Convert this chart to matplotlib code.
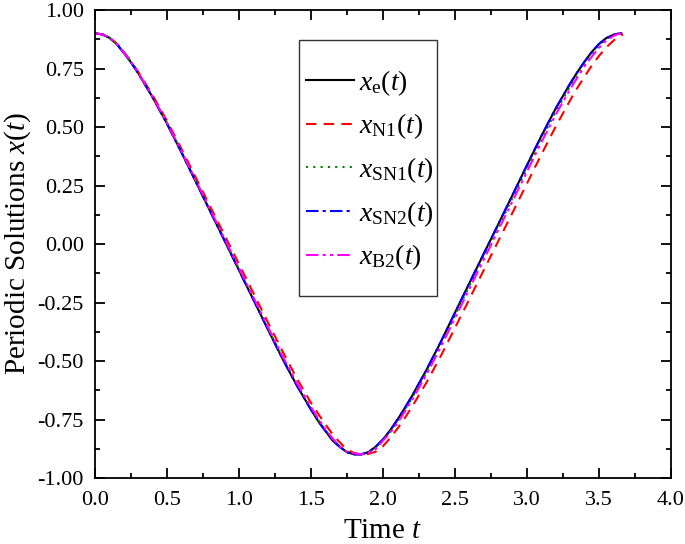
import matplotlib
matplotlib.use("Agg")
import matplotlib.pyplot as plt
from matplotlib.patches import Rectangle
from matplotlib.ticker import MultipleLocator, FormatStrFormatter

plt.rcParams['font.family'] = 'Liberation Serif'
plt.rcParams['mathtext.fontset'] = 'custom'
plt.rcParams['mathtext.rm'] = 'Liberation Serif'
plt.rcParams['mathtext.it'] = 'Liberation Serif:italic'
plt.rcParams['axes.unicode_minus'] = False

# time points (denser near the turning points)
t_grid = [0.0, 0.05, 0.1, 0.15, 0.2, 0.25, 0.3,
          0.4, 0.5, 0.6, 0.7, 0.8, 0.9, 1.0, 1.1, 1.2, 1.3, 1.4, 1.5,
          1.55, 1.6, 1.65, 1.7, 1.75, 1.8, 1.85, 1.9, 1.95, 2.0, 2.05, 2.1, 2.15, 2.2,
          2.3, 2.4, 2.5, 2.6, 2.7, 2.8, 2.9, 3.0, 3.1, 3.2, 3.3,
          3.35, 3.4, 3.45, 3.5, 3.55, 3.6, 3.625]

t_end_e = 3.655
t_end_n1 = 3.667
t_end_sn1 = 3.66
t_end_sn2 = 3.655
t_end_b2 = 3.667

x_e = [0.900, 0.896, 0.881, 0.855, 0.817, 0.776, 0.730,
       0.627, 0.514, 0.392, 0.266, 0.140, 0.014, -0.112, -0.238, -0.364, -0.488, -0.603, -0.708,
       -0.757, -0.799, -0.840, -0.867, -0.890, -0.899, -0.899, -0.889, -0.866, -0.835, -0.796, -0.751, -0.702, -0.651,
       -0.540, -0.420, -0.293, -0.167, -0.041, 0.084, 0.210, 0.337, 0.462, 0.580, 0.686,
       0.735, 0.780, 0.821, 0.855, 0.880, 0.894, 0.898,
       0.900]

x_n1 = [0.900, 0.896, 0.882, 0.857, 0.821, 0.780, 0.736,
        0.636, 0.526, 0.407, 0.284, 0.160, 0.037, -0.086, -0.210, -0.334, -0.456, -0.573, -0.679,
        -0.726, -0.771, -0.813, -0.848, -0.879, -0.893, -0.900, -0.897, -0.887, -0.864, -0.829, -0.789, -0.745, -0.697,
        -0.594, -0.480, -0.358, -0.235, -0.111, 0.012, 0.135, 0.259, 0.383, 0.503, 0.615,
        0.668, 0.716, 0.763, 0.804, 0.840, 0.869, 0.884,
        0.896]

x_sn1 = [0.900, 0.896, 0.882, 0.856, 0.818, 0.777, 0.731,
         0.628, 0.516, 0.394, 0.269, 0.143, 0.018, -0.107, -0.233, -0.359, -0.482, -0.598, -0.702,
         -0.752, -0.795, -0.836, -0.866, -0.889, -0.897, -0.899, -0.890, -0.871, -0.838, -0.802, -0.758, -0.710, -0.659,
         -0.550, -0.430, -0.304, -0.179, -0.053, 0.071, 0.197, 0.323, 0.448, 0.567, 0.674,
         0.724, 0.770, 0.811, 0.847, 0.877, 0.892, 0.897,
         0.900]

x_sn2 = [0.900, 0.896, 0.881, 0.855, 0.817, 0.776, 0.730,
         0.627, 0.514, 0.392, 0.266, 0.140, 0.014, -0.112, -0.238, -0.364, -0.488, -0.603, -0.708,
         -0.757, -0.799, -0.840, -0.867, -0.890, -0.899, -0.899, -0.889, -0.866, -0.835, -0.796, -0.751, -0.702, -0.651,
         -0.540, -0.420, -0.293, -0.167, -0.041, 0.084, 0.210, 0.337, 0.462, 0.580, 0.686,
         0.735, 0.780, 0.821, 0.855, 0.880, 0.894, 0.898,
         0.900]

x_b2 = [0.900, 0.896, 0.882, 0.856, 0.819, 0.778, 0.732,
        0.630, 0.518, 0.397, 0.272, 0.147, 0.022, -0.103, -0.228, -0.354, -0.477, -0.593, -0.697,
        -0.747, -0.791, -0.831, -0.865, -0.888, -0.895, -0.899, -0.892, -0.876, -0.840, -0.807, -0.765, -0.717, -0.668,
        -0.560, -0.441, -0.316, -0.191, -0.066, 0.059, 0.184, 0.310, 0.435, 0.554, 0.663,
        0.712, 0.761, 0.801, 0.838, 0.870, 0.889, 0.896,
        0.900]

fig = plt.figure(figsize=(6.85, 5.44), dpi=100)
ax = fig.add_axes([0.1387, 0.1213, 0.8409, 0.8603])

ax.plot(t_grid + [t_end_e], x_e, color='black', lw=1.5, ls='-', label=r'$x_{\rm e}(t)$')
ax.plot(t_grid + [t_end_n1], x_n1, color='#ff0000', lw=1.5, ls=(0, (5, 3.5)), label=r'$x_{\rm N1}(t)$')
ax.plot(t_grid + [t_end_sn1], x_sn1, color='#008000', lw=1.5, ls=(0, (1, 2.5)), label=r'$x_{\rm SN1}(t)$')
ax.plot(t_grid + [t_end_sn2], x_sn2, color='#0000ff', lw=1.5, ls=(0, (6, 2, 1.5, 2)), label=r'$x_{\rm SN2}(t)$')
ax.plot(t_grid + [t_end_b2], x_b2, color='#ff00ff', lw=1.5, ls=(0, (6, 2, 1.5, 2, 1.5, 2)), label=r'$x_{\rm B2}(t)$')

ax.set_xlim(0, 4.0)
ax.set_ylim(-1.0, 1.0)
ax.xaxis.set_major_locator(MultipleLocator(0.5))
ax.xaxis.set_minor_locator(MultipleLocator(0.25))
ax.yaxis.set_major_locator(MultipleLocator(0.25))
ax.yaxis.set_minor_locator(MultipleLocator(0.125))
ax.xaxis.set_major_formatter(FormatStrFormatter('%.1f'))
ax.yaxis.set_major_formatter(FormatStrFormatter('%.2f'))

ax.tick_params(which='both', direction='in', top=True, right=True, width=1.3, labelsize=16)
ax.tick_params(which='major', length=7)
ax.tick_params(which='minor', length=3.5)
ax.tick_params(axis='x', which='major', pad=9)
ax.tick_params(axis='y', which='major', pad=8)
for s in ax.spines.values():
    s.set_linewidth(1.3)

ax.set_xlabel(r'Time $t$', fontsize=21, labelpad=6)
ax.set_ylabel(r'Periodic Solutions $x(t)$', fontsize=21, labelpad=3)

# legend frame drawn separately to get the tall box of the original
ax.add_patch(Rectangle((0.354, 0.389), 0.240, 0.547, transform=ax.transAxes,
                       facecolor='white', edgecolor='#333333', lw=1.0, zorder=4))
leg = ax.legend(loc='center left', bbox_to_anchor=(0.367, 0.658), frameon=False,
                fontsize=20, handlelength=1.7, handletextpad=0.2, labelspacing=0.5,
                borderpad=0.0, borderaxespad=0.0)
leg.set_zorder(5)

fig.savefig('out.png', dpi=100)
